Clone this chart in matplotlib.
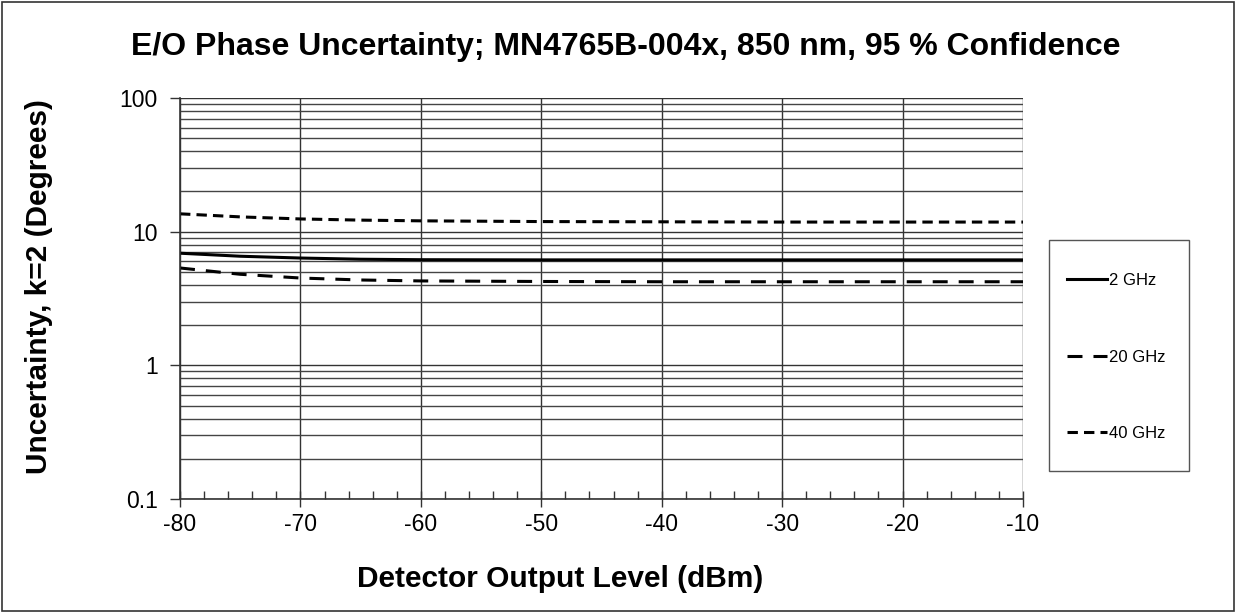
import matplotlib
matplotlib.use('Agg')
import matplotlib.pyplot as plt
from matplotlib.ticker import FixedLocator, NullFormatter, MultipleLocator
from matplotlib.patches import Rectangle

plt.rcParams['font.family'] = ['Liberation Sans', 'DejaVu Sans']
plt.rcParams['axes.unicode_minus'] = False

# detector output level (dBm)
level = [-80, -75, -70, -65, -60, -50, -40, -30, -20, -10]

# uncertainty k=2 (degrees)
ghz2 = [6.9, 6.55, 6.35, 6.22, 6.17, 6.15, 6.15, 6.15, 6.15, 6.15]
ghz20 = [5.35, 4.8, 4.5, 4.35, 4.28, 4.24, 4.22, 4.22, 4.22, 4.22]
ghz40 = [13.6, 12.9, 12.45, 12.2, 12.05, 11.9, 11.85, 11.8, 11.8, 11.8]

W, H = 1236, 613
fig = plt.figure(figsize=(W / 100, H / 100), dpi=100)
ax = fig.add_axes([180 / W, 1 - 499 / H, 843 / W, 401 / H])

ax.plot(level, ghz2, color='black', lw=2.2, linestyle='-', label='2 GHz')
ax.plot(level, ghz20, color='black', lw=2.2, linestyle=(0, (4.9, 3.6)), label='20 GHz')
ax.plot(level, ghz40, color='black', lw=2.2, linestyle=(0, (3.4, 2.0)), label='40 GHz')

ax.set_yscale('log')
ax.set_xlim(-80, -10)
ax.set_ylim(0.1, 100)

ax.set_yticks([0.1, 1, 10, 100])
ax.set_yticklabels(['0.1', '1', '10', '100'])
minor_y = [m * d for d in (0.1, 1, 10) for m in range(2, 10)]
ax.yaxis.set_minor_locator(FixedLocator(minor_y))
ax.yaxis.set_minor_formatter(NullFormatter())
ax.xaxis.set_major_locator(MultipleLocator(10))
ax.xaxis.set_minor_locator(MultipleLocator(2))

ax.grid(True, which='major', color='#333333', lw=1.0)
ax.grid(True, which='minor', axis='y', color='#444444', lw=1.0)

ax.tick_params(axis='y', which='major', direction='out', length=7, width=1, color='#333333',
               labelsize=16.5, pad=9)
ax.tick_params(axis='y', which='minor', length=0)
ax.tick_params(axis='x', which='major', direction='inout', length=12, width=1, color='#333333',
               labelsize=16.5, pad=4)
ax.tick_params(axis='x', which='minor', direction='in', length=6, width=1, color='#333333')

for side in ('top', 'right'):
    ax.spines[side].set_visible(False)
for side in ('left', 'bottom'):
    ax.spines[side].set_color('#333333')
    ax.spines[side].set_linewidth(1.2)

fig.text(626 / W, 1 - 47 / H, 'E/O Phase Uncertainty; MN4765B-004x, 850 nm, 95 % Confidence',
         fontsize=23, fontweight='bold', ha='center', va='center')
ax.set_xlabel('Detector Output Level (dBm)', fontsize=21.5, fontweight='bold')
ax.xaxis.set_label_coords(0.451, -0.165)
ax.set_ylabel('Uncertainty, k=2 (Degrees)', fontsize=21.5, fontweight='bold')
ax.yaxis.set_label_coords(-0.151, 0.53)

# legend box
fig.patches.append(Rectangle((1049 / W, 1 - 471 / H), 140 / W, 231 / H, transform=fig.transFigure,
                             fill=False, edgecolor='#555555', lw=1.0))
ax.legend(loc='center left', bbox_to_anchor=(1067 / W, 1 - 357 / H), bbox_transform=fig.transFigure,
          fontsize=12, frameon=False, handlelength=2.4, handletextpad=0.1,
          labelspacing=3.7, borderpad=0, borderaxespad=0)

fig.patches.append(Rectangle((0.002, 0.003), 0.996, 0.994, transform=fig.transFigure,
                             fill=False, edgecolor='#333333', lw=1.2))

fig.savefig('out.png', dpi=100)
